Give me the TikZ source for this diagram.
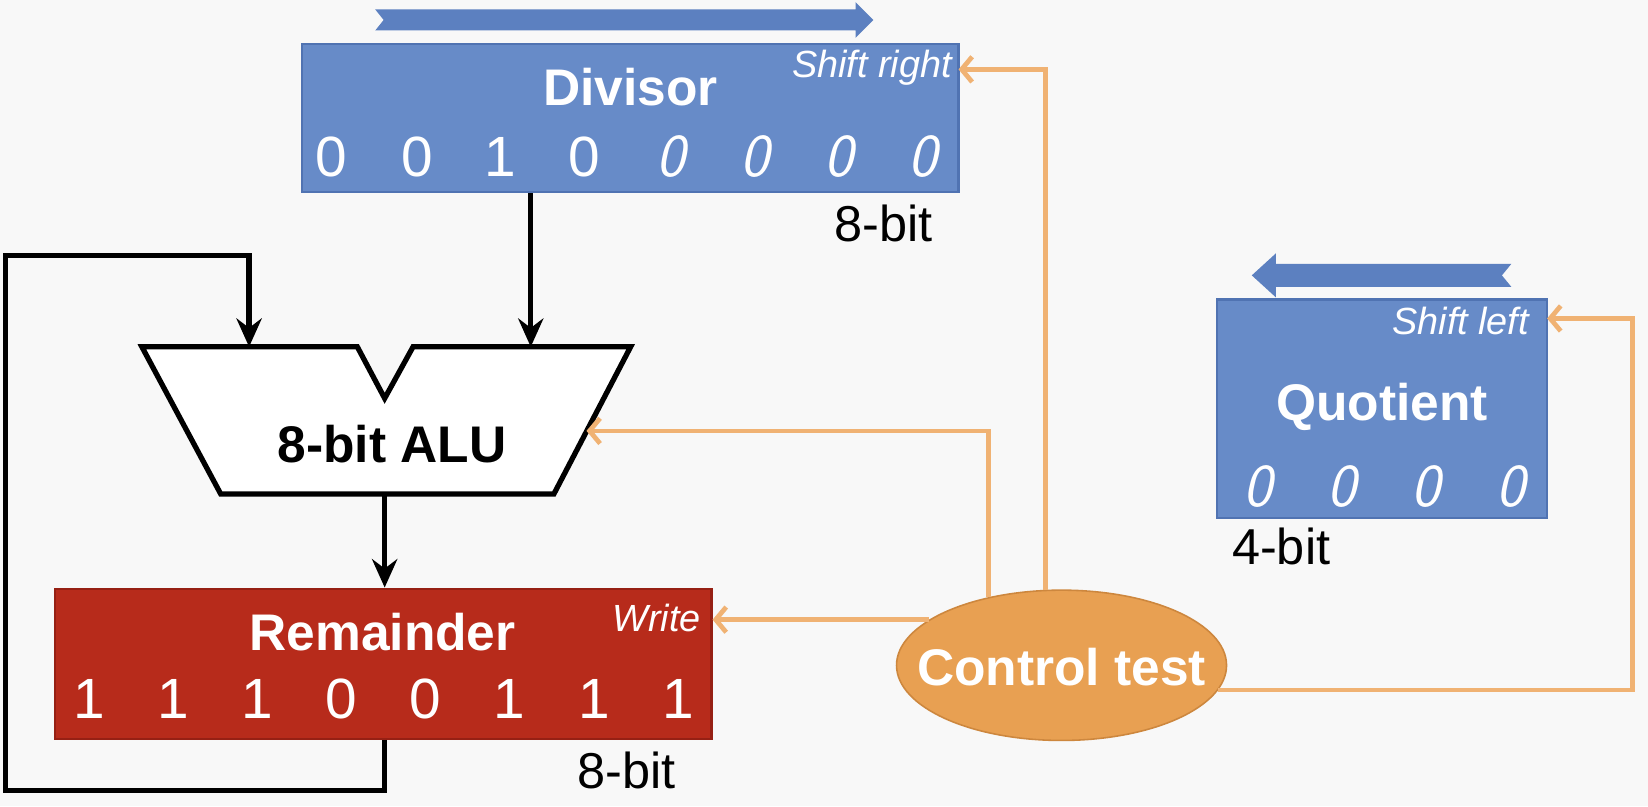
\documentclass[tikz,border=0pt]{standalone}
\usepackage{fontspec}
\setmainfont{Liberation Sans}
\usetikzlibrary{arrows.meta,shapes.geometric}
\definecolor{bgc}{RGB}{248,248,248}
\definecolor{boxblue}{RGB}{103,139,200}
\definecolor{arrowblue}{RGB}{92,128,192}
\definecolor{boxblueedge}{RGB}{80,115,178}
\definecolor{remred}{RGB}{183,43,27}
\definecolor{remrededge}{RGB}{150,32,20}
\definecolor{ctlorange}{RGB}{232,160,82}
\definecolor{ctledge}{RGB}{205,135,62}
\definecolor{wire}{RGB}{240,178,115}
\newcommand\olzero{{\sffamily\itshape\fontsize{58}{60}\selectfont 0}}
\tikzset{
  regbox/.style={line width=2pt, inner sep=0pt},
  biglbl/.style={font=\fontsize{49}{55}\selectfont\bfseries, text=white, inner sep=0pt, anchor=base},
  bitlbl/.style={font=\fontsize{54}{60}\selectfont, text=white, inner sep=0pt, anchor=base},
  ctllbl/.style={font=\fontsize{36}{40}\selectfont\itshape, text=white, inner sep=0pt, anchor=base east},
  sizelbl/.style={font=\fontsize{48}{52}\selectfont, text=black, inner sep=0pt, anchor=base},
  blkwire/.style={line width=5pt, draw=black, -{Stealth[length=27pt,width=24pt,inset=9pt]}},
  orgwire/.style={line width=4.5pt, draw=wire, -{Straight Barb[length=10pt,width=24pt]}},
}
\begin{document}
\begin{tikzpicture}[x=1pt,y=-1pt]
\useasboundingbox (0,0) rectangle (1568,767);
\fill[bgc] (0,0) rectangle (1568,767);

% shift arrows
\fill[arrowblue] (357,9) -- (814,9) -- (814,2) -- (831,19) -- (814,36) -- (814,29) -- (357,29) -- (365,19) -- cycle;
\fill[arrowblue] (1438,251) -- (1214,251) -- (1214,241) -- (1191,262) -- (1214,283) -- (1214,273) -- (1438,273) -- (1429,262) -- cycle;

% registers
\node[regbox, draw=boxblueedge, fill=boxblue, minimum width=625pt, minimum height=141pt] (div) at (599.5,112.5) {};
\node[regbox, draw=remrededge, fill=remred, minimum width=625pt, minimum height=143pt] (rem) at (364.5,631.5) {};
\node[regbox, draw=boxblueedge, fill=boxblue, minimum width=314pt, minimum height=208pt] (quo) at (1315,389) {};
\node[ellipse, draw=ctledge, fill=ctlorange, line width=1.5pt, minimum width=314pt, minimum height=143pt, inner sep=0pt] (ctl) at (1010,633) {};

% ALU
\draw[line width=5pt, line join=miter, fill=white] (135,330) -- (340,330) -- (366,379) -- (393,330) -- (600,330) -- (527,470) -- (210,470) -- cycle;
\coordinate (aluinA) at (237,330);
\coordinate (aluinB) at (505,330);
\coordinate (aluout) at (366,470);
\coordinate (aluctl) at (558,410);
\coordinate (divctl) at (912,66);
\coordinate (quoctl) at (1472,303);
\coordinate (qturn) at (1553,303);
\coordinate (lpA) at (5,752);
\coordinate (lpB) at (5,243);

% labels
\node[biglbl] (tdiv) at (600,100) {Divisor};
\node[ctllbl] (tsr) at (906,74) {Shift right};
\node[biglbl, text=black] (talu) at (373,440) {8-bit ALU};
\node[biglbl] (trem) at (364,619) {Remainder};
\node[ctllbl] (twr) at (667,601) {Write};
\node[biglbl] (tquo) at (1315,400) {Quotient};
\node[ctllbl] (tsl) at (1455,318) {Shift left};
\node[biglbl] (tctl) at (1010,652) {Control test};
\node[sizelbl] (sz1) at (841,230) {8-bit};
\node[sizelbl] (sz2) at (596,750) {8-bit};
\node[sizelbl] (sz3) at (1219,537) {4-bit};

% bits
\foreach \x/\b [count=\i] in {315/0,397/0,476/1,556/0}
  \node[bitlbl] (db\i) at (\x,168) {\b};
\foreach \x [count=\i from 5] in {638,718,798,878}
  \node[bitlbl] (db\i) at (\x,168) {\olzero};
\foreach \x/\b [count=\i] in {85/1,165/1,245/1,325/0,405/0,485/1,565/1,645/1}
  \node[bitlbl] (rb\i) at (\x,684) {\b};
\foreach \x [count=\i] in {1197,1277,1357,1437}
  \node[bitlbl] (qb\i) at (\x,482) {\olzero};

% black data paths
\draw[blkwire] (div.south -| aluinB) -- (aluinB);
\draw[blkwire] (aluout) -- (aluout |- rem.north);
\draw[blkwire, line join=miter] (rem.south -| aluout) |- (lpA) -- (lpB) -| (aluinA);

% control wires
\draw[orgwire, line join=miter] (ctl.137) |- (aluctl);
\draw[orgwire, line join=miter] (ctl.102) |- (divctl);
\draw[orgwire] (ctl.161) -- (ctl.161 -| rem.east);
\draw[orgwire, line join=miter] (ctl.-9) -| (qturn) -- (quoctl);
\end{tikzpicture}
\end{document}
